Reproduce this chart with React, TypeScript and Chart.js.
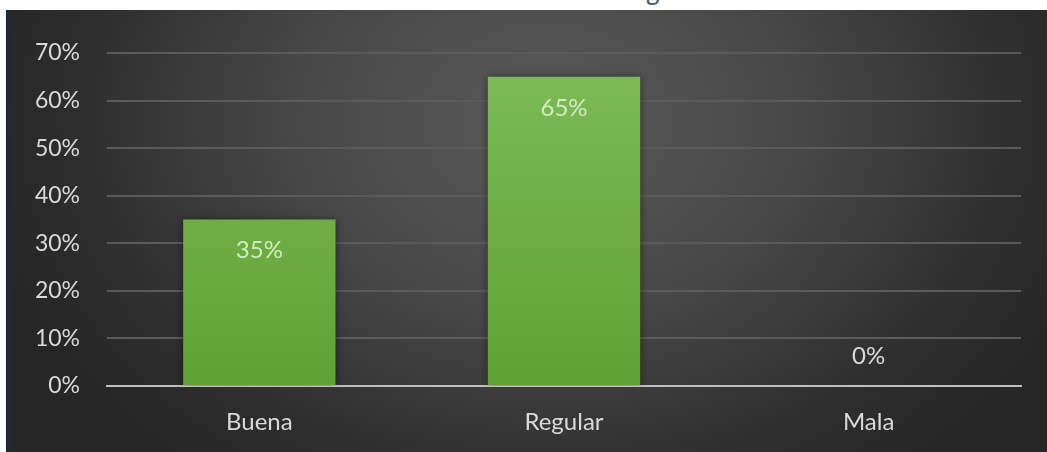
import React, { useEffect, useRef } from "react";
import { Chart, registerables } from "chart.js";

Chart.register(...registerables);

const categories = ["Buena", "Regular", "Mala"];
const values = [35, 65, 0];
const yTicks = [0, 10, 20, 30, 40, 50, 60, 70];

const FONT = "Lato, 'Open Sans', sans-serif";

const labelPlugin = {
  id: "barLabels",
  afterDatasetsDraw(chart: any) {
    const ctx = chart.ctx;
    const meta = chart.getDatasetMeta(0);
    ctx.save();
    ctx.font = `24px ${FONT}`;
    ctx.textAlign = "center";
    ctx.textBaseline = "middle";
    meta.data.forEach((el: any, i: number) => {
      const v = values[i];
      const txt = `${v}%`;
      if (v > 0) {
        ctx.fillStyle = "#d3ebc2";
        ctx.fillText(txt, el.x, el.y + 31);
      } else {
        ctx.fillStyle = "#d9d9d9";
        ctx.fillText(txt, el.x, el.y - 30);
      }
    });
    ctx.restore();
  },
};

const shadowPlugin = {
  id: "barShadow",
  beforeDatasetsDraw(chart: any) {
    const ctx = chart.ctx;
    ctx.save();
    ctx.shadowColor = "rgba(0,0,0,0.45)";
    ctx.shadowBlur = 8;
  },
  afterDatasetsDraw(chart: any) {
    chart.ctx.restore();
  },
};

export default function App() {
  const ref = useRef<HTMLCanvasElement>(null);
  useEffect(() => {
    document.body.style.margin = "0";
    const chart = new Chart(ref.current!, {
      type: "bar",
      data: {
        labels: categories,
        datasets: [
          {
            data: values,
            backgroundColor: (c: any) => {
              const area = c.chart.chartArea;
              if (!area) return "#6aad41";
              const g = c.chart.ctx.createLinearGradient(0, area.top, 0, area.bottom);
              g.addColorStop(0, "#7dbc58");
              g.addColorStop(1, "#60a133");
              return g;
            },
            borderWidth: 0,
            barPercentage: 0.5,
            categoryPercentage: 1,
          },
        ],
      },
      options: {
        animation: false,
        responsive: false,
        maintainAspectRatio: false,
        devicePixelRatio: 1,
        layout: { padding: { top: 43, right: 26, bottom: 0, left: 0 } },
        plugins: { legend: { display: false }, tooltip: { enabled: false }, title: { display: false } },
        scales: {
          x: {
            grid: { display: false, drawTicks: false },
            border: { display: true, color: "#bfbfbf", width: 2 },
            ticks: { color: "#d9d9d9", font: { family: FONT, size: 24 }, padding: 22, maxRotation: 0 },
            afterFit: (s: any) => {
              s.height = 66;
            },
          },
          y: {
            min: 0,
            max: 70,
            afterBuildTicks: (s: any) => {
              s.ticks = yTicks.map((v) => ({ value: v }));
            },
            afterFit: (s: any) => {
              s.width = 101;
            },
            grid: {
              drawTicks: false,
              color: (c: any) => (c.tick && c.tick.value === 0 ? "#bfbfbf" : "#5b5b5b"),
              lineWidth: 2,
            },
            border: { display: false },
            ticks: {
              color: "#d9d9d9",
              font: { family: FONT, size: 23 },
              padding: 27,
              callback: (v: any) => `${v}%`,
            },
          },
        },
      },
      plugins: [shadowPlugin, labelPlugin],
    });
    return () => chart.destroy();
  }, []);

  return (
    <div style={{ position: "fixed", left: 0, top: 0, width: 1047, height: 452, background: "#ffffff", overflow: "hidden" }}>
      <div style={{ position: "absolute", left: 0, top: 0, width: 1047, height: 10, overflow: "hidden" }}>
        <span
          style={{
            position: "absolute",
            left: 646,
            top: -23,
            fontFamily: FONT,
            fontSize: 26,
            lineHeight: "26px",
            color: "#44546a",
          }}
        >
          g
        </span>
      </div>
      <div
        style={{
          position: "absolute",
          left: 6,
          top: 10,
          width: 1041,
          height: 442,
          background:
            "radial-gradient(ellipse 55% 100% at 52% 25%, #5a5a5a 0%, #474747 45%, #2f2f2f 80%, #262626 100%)",
        }}
      >
        <div style={{ position: "absolute", left: 0, top: 0, width: 6, height: 442, background: "linear-gradient(to right, #1c2733, #25292e)" }} />
        <canvas ref={ref} width={1041} height={442} style={{ position: "absolute", left: 0, top: 0, width: 1041, height: 442, display: "block" }} />
      </div>
    </div>
  );
}
